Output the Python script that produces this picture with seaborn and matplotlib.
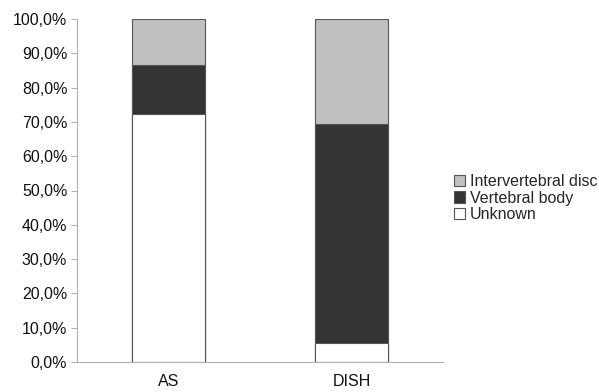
import matplotlib
matplotlib.use("Agg")
import matplotlib.pyplot as plt
import seaborn as sns
import pandas as pd
from matplotlib.patches import Patch
from matplotlib.ticker import FuncFormatter

categories = ["AS", "DISH"]
unknown = [72.3, 5.6]
vertebral_body = [14.4, 63.8]
intervertebral_disc = [13.3, 30.6]
series_names = ["Intervertebral disc", "Vertebral body", "Unknown"]
yticks = [0, 10, 20, 30, 40, 50, 60, 70, 80, 90, 100]

sns.set_style("white")
plt.rcParams['font.family'] = ['Liberation Sans', 'DejaVu Sans']

fig = plt.figure(figsize=(5.99, 3.92), dpi=100)
ax = fig.add_axes([77/599, 30/392, 366/599, 343/392])

cum_unknown = unknown
cum_body = [u + b for u, b in zip(unknown, vertebral_body)]
cum_total = [c + d for c, d in zip(cum_body, intervertebral_disc)]

colors = {"Intervertebral disc": "#c0c0c0", "Vertebral body": "#333333", "Unknown": "#ffffff"}
edge = "#555555"

for name, vals in [("Intervertebral disc", cum_total), ("Vertebral body", cum_body), ("Unknown", cum_unknown)]:
    df = pd.DataFrame({"cat": categories, "val": vals})
    sns.barplot(data=df, x="cat", y="val", ax=ax, color=colors[name], width=0.4,
                edgecolor=edge, linewidth=0.8, saturation=1, errorbar=None)

ax.set_ylim(0, 100)
ax.set_xlim(-0.5, 1.5)
ax.set_yticks(yticks)
ax.yaxis.set_major_formatter(FuncFormatter(lambda v, p: f"{v:.1f}%".replace(".", ",")))
ax.set_xlabel("")
ax.set_ylabel("")
for s in ["top", "right"]:
    ax.spines[s].set_visible(False)
for s in ["left", "bottom"]:
    ax.spines[s].set_color("#b0b0b0")
    ax.spines[s].set_linewidth(0.8)
ax.tick_params(axis="y", left=True, length=4, color="#b0b0b0", labelsize=11.5, pad=3, labelcolor="#111111")
ax.tick_params(axis="x", bottom=False, labelsize=11.5, pad=5, labelcolor="#111111")

handles = [Patch(facecolor=colors[n], edgecolor=edge, linewidth=0.8, label=n) for n in series_names]
fig.legend(handles=handles, loc="center left", bbox_to_anchor=(454/599, 1 - 198/392),
           frameon=False, fontsize=11.5, handlelength=0.7, handleheight=0.7,
           handletextpad=0.3, labelspacing=0.1, borderaxespad=0, borderpad=0)

fig.savefig("out.png", dpi=100)
